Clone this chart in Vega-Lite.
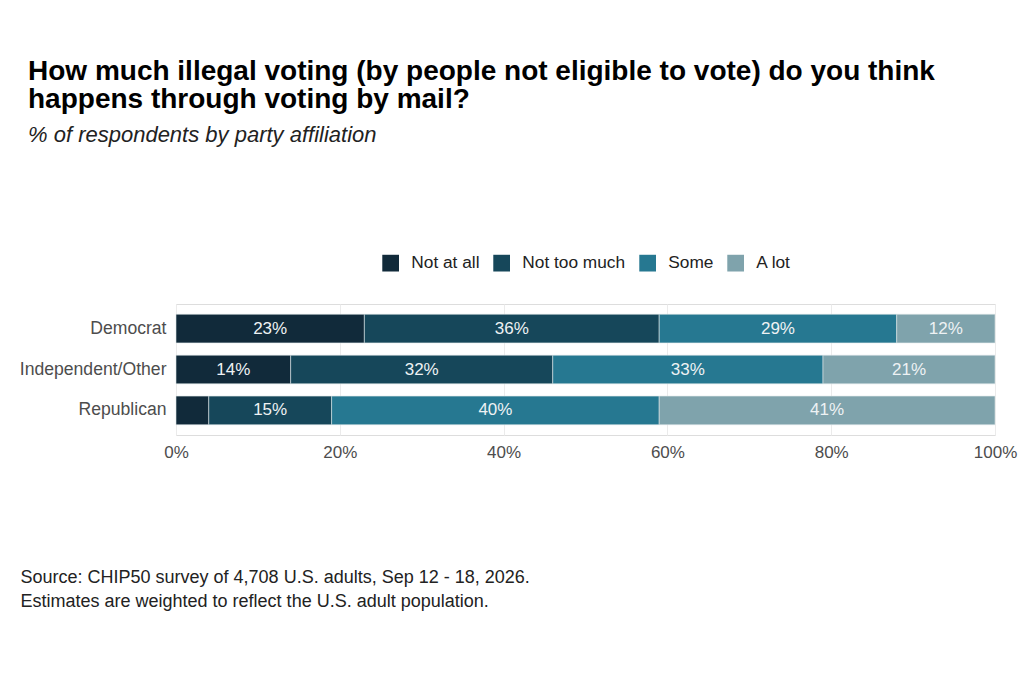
{
  "$schema": "https://vega.github.io/schema/vega-lite/v6.json",
  "autosize": {"type": "none"},
  "padding": {"left": 176, "top": 304, "right": 29, "bottom": 248},
  "width": 819,
  "height": 131,
  "background": "white",
  "title": {
    "text": ["How much illegal voting (by people not eligible to vote) do you think", "happens through voting by mail?"],
    "subtitle": "% of respondents by party affiliation",
    "anchor": "start",
    "frame": "group",
    "align": "left",
    "dx": -148,
    "offset": 108,
    "font": "Liberation Sans",
    "fontSize": 28,
    "fontWeight": "bold",
    "color": "#000000",
    "lineHeight": 28,
    "subtitleFont": "Liberation Sans",
    "subtitleFontSize": 22,
    "subtitleFontStyle": "italic",
    "subtitleColor": "#222222",
    "subtitlePadding": 11
  },
  "data": {
    "values": [
      {"party": "Democrat", "response": "Not at all", "rank": 1, "value": 23, "label": "23%"},
      {"party": "Democrat", "response": "Not too much", "rank": 2, "value": 36, "label": "36%"},
      {"party": "Democrat", "response": "Some", "rank": 3, "value": 29, "label": "29%"},
      {"party": "Democrat", "response": "A lot", "rank": 4, "value": 12, "label": "12%"},
      {"party": "Independent/Other", "response": "Not at all", "rank": 1, "value": 14, "label": "14%"},
      {"party": "Independent/Other", "response": "Not too much", "rank": 2, "value": 32, "label": "32%"},
      {"party": "Independent/Other", "response": "Some", "rank": 3, "value": 33, "label": "33%"},
      {"party": "Independent/Other", "response": "A lot", "rank": 4, "value": 21, "label": "21%"},
      {"party": "Republican", "response": "Not at all", "rank": 1, "value": 4, "label": ""},
      {"party": "Republican", "response": "Not too much", "rank": 2, "value": 15, "label": "15%"},
      {"party": "Republican", "response": "Some", "rank": 3, "value": 40, "label": "40%"},
      {"party": "Republican", "response": "A lot", "rank": 4, "value": 41, "label": "41%"}
    ]
  },
  "encoding": {
    "y": {
      "field": "party",
      "type": "nominal",
      "sort": ["Democrat", "Independent/Other", "Republican"],
      "scale": {"paddingInner": 0.3, "paddingOuter": 0.25},
      "axis": {
        "title": null,
        "domain": false,
        "ticks": false,
        "grid": false,
        "labelFont": "Liberation Sans",
        "labelFontSize": 17.6,
        "labelColor": "#4d4d4d",
        "labelPadding": 10
      }
    },
    "x": {
      "field": "value",
      "type": "quantitative",
      "stack": "zero",
      "scale": {"domain": [0, 100], "nice": false},
      "axis": {
        "values": [0, 20, 40, 60, 80, 100],
        "labelExpr": "datum.value + '%'",
        "domain": false,
        "ticks": false,
        "grid": true,
        "gridColor": "#ebebeb",
        "gridWidth": 1,
        "labelFont": "Liberation Sans",
        "labelFontSize": 17,
        "labelColor": "#4d4d4d",
        "labelPadding": 9,
        "labelFlush": false,
        "title": ["Source: CHIP50 survey of 4,708 U.S. adults, Sep 12 - 18, 2026.", "Estimates are weighted to reflect the U.S. adult population."],
        "titleFont": "Liberation Sans",
        "titleFontSize": 18,
        "titleFontWeight": "normal",
        "titleColor": "#222222",
        "titleAnchor": "start",
        "titleAlign": "left",
        "titleBaseline": "alphabetic",
        "titleX": -156,
        "titleY": 147,
        "titleLineHeight": 24
      }
    },
    "order": {"field": "rank", "type": "quantitative"}
  },
  "layer": [
    {
      "mark": {"type": "bar", "stroke": "#dde5e8", "strokeWidth": 0.6},
      "encoding": {
        "color": {
          "field": "response",
          "type": "nominal",
          "sort": ["Not at all", "Not too much", "Some", "A lot"],
          "scale": {
            "domain": ["Not at all", "Not too much", "Some", "A lot"],
            "range": ["#112a3a", "#16475a", "#267891", "#7fa3ac"]
          },
          "legend": {
            "title": null,
            "orient": "none",
            "direction": "horizontal",
            "legendX": 206,
            "legendY": -50,
            "symbolType": "square",
            "symbolSize": 280,
            "symbolStrokeWidth": 0,
            "labelFont": "Liberation Sans",
            "labelFontSize": 17.3,
            "labelColor": "#222222",
            "labelOffset": 12,
            "columnPadding": 13
          }
        }
      }
    },
    {
      "mark": {"type": "text", "font": "Liberation Sans", "fontSize": 17, "color": "#eef2f4", "baseline": "middle", "align": "center"},
      "encoding": {
        "x": {"field": "value", "type": "quantitative", "stack": "zero", "bandPosition": 0.5},
        "text": {"field": "label", "type": "nominal"}
      }
    }
  ]
}
